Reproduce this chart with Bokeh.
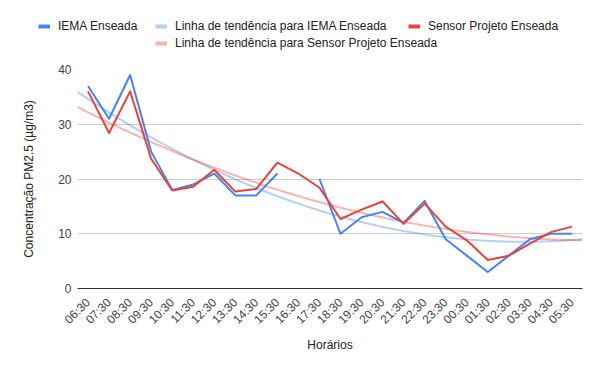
import numpy as np
from bokeh.plotting import figure
from bokeh.layouts import column, row
from bokeh.models import (ColumnDataSource, FixedTicker, Legend, LegendItem, Range1d)
from bokeh.embed import file_html
from bokeh.resources import INLINE

hours = ["06:30", "07:30", "08:30", "09:30", "10:30", "11:30", "12:30", "13:30",
         "14:30", "15:30", "16:30", "17:30", "18:30", "19:30", "20:30", "21:30",
         "22:30", "23:30", "00:30", "01:30", "02:30", "03:30", "04:30", "05:30"]
iema = [37, 31, 39, 25, 18, 19, 21, 17, 17, 21, np.nan, 20, 10, 13, 14, 12,
        16, 9, 6, 3, 6, 9, 10, 10]
sensor = [36, 28.4, 36, 23.7, 17.9, 18.6, 21.7, 17.7, 18.2, 23, 21, 18.4, 12.7,
          14.4, 15.9, 11.8, 15.5, 11.3, 8.8, 5.2, 6.0, 8.2, 10.3, 11.3]
labels = ["IEMA Enseada", "Linha de tendência para IEMA Enseada",
          "Sensor Projeto Enseada", "Linha de tendência para Sensor Projeto Enseada"]

FONT = "Liberation Sans"
BLUE = "#4285F4"
RED = "#EA4335"
LBLUE = "#B3CEFB"
LRED = "#F2B4AE"

x = np.arange(len(hours))
iema_arr = np.array(iema, dtype=float)
sensor_arr = np.array(sensor, dtype=float)

# polynomial (degree 2) trend lines, as the source chart draws them
xs = np.linspace(-0.5, len(hours) - 0.5, 200)
ok = ~np.isnan(iema_arr)
t_iema = np.polyval(np.polyfit(x[ok], iema_arr[ok], 2), xs)
t_sensor = np.polyval(np.polyfit(x, sensor_arr, 2), xs)

src = ColumnDataSource(dict(x=x, iema=iema_arr, sensor=sensor_arr))
tsrc = ColumnDataSource(dict(x=xs, ti=t_iema, ts=t_sensor))

# ---------- legend strip (its own figure, series kept out of view) ----------
LH = 61
lf = figure(width=584, height=LH, output_backend="svg", toolbar_location=None,
            x_axis_type=None, y_axis_type=None,
            x_range=Range1d(0, 1), y_range=Range1d(-2, -1),
            min_border=0, min_border_left=0, min_border_right=0,
            min_border_top=0, min_border_bottom=0)
lf.outline_line_color = None
lf.xgrid.grid_line_color = None
lf.ygrid.grid_line_color = None

sw = dict(line_width=4, line_cap="butt")
rs = [lf.line("x", "iema", source=src, line_color=BLUE, **sw),
      lf.line("x", "ti", source=tsrc, line_color=LBLUE, **sw),
      lf.line("x", "sensor", source=src, line_color=RED, **sw),
      lf.line("x", "ts", source=tsrc, line_color=LRED, **sw)]
locs = [(38, 27), (155, 27), (408, 27), (155, 10)]
for r, lab, loc in zip(rs, labels, locs):
    lg = Legend(items=[LegendItem(label=lab, renderers=[r])], location=loc,
                glyph_width=12, glyph_height=16, label_height=16,
                label_standoff=8, padding=0, margin=0, spacing=0,
                border_line_color=None, background_fill_alpha=0,
                label_text_font=FONT, label_text_font_size="12px",
                label_text_color="#222222")
    lf.add_layout(lg, "center")

# ---------- main chart ----------
p = figure(width=584, height=355 - LH, output_backend="svg", toolbar_location=None,
           x_range=Range1d(-0.5, len(hours) - 0.5), y_range=Range1d(0, 40),
           min_border_left=77, min_border_right=2, min_border_top=69 - LH,
           min_border_bottom=67)
p.outline_line_color = None

p.line("x", "ti", source=tsrc, line_color=BLUE, line_alpha=0.4, line_width=2)
p.line("x", "ts", source=tsrc, line_color=RED, line_alpha=0.4, line_width=2)
p.line("x", "iema", source=src, line_color=BLUE, line_width=2, line_join="round")
p.line("x", "sensor", source=src, line_color=RED, line_width=2, line_join="round")

p.xaxis.ticker = FixedTicker(ticks=list(x))
p.xaxis.major_label_overrides = {int(i): h for i, h in zip(x, hours)}
p.xaxis.major_label_orientation = np.pi / 4
p.xaxis.axis_line_color = "#333333"
p.xaxis.major_tick_line_color = None
p.xaxis.minor_tick_line_color = None
p.xaxis.major_label_standoff = 6
p.xaxis.major_label_text_font = FONT
p.xaxis.major_label_text_font_size = "12px"
p.xaxis.major_label_text_color = "#444444"
p.xaxis.axis_label = "Horários"
p.xaxis.axis_label_text_font = FONT
p.xaxis.axis_label_text_font_size = "12px"
p.xaxis.axis_label_text_font_style = "normal"
p.xaxis.axis_label_text_color = "#222222"
p.xaxis.axis_label_standoff = 3

p.yaxis.ticker = FixedTicker(ticks=[0, 10, 20, 30, 40])
p.yaxis.axis_line_color = None
p.yaxis.major_tick_line_color = None
p.yaxis.minor_tick_line_color = None
p.yaxis.major_tick_out = 0
p.yaxis.major_label_standoff = 6
p.yaxis.major_label_text_font = FONT
p.yaxis.major_label_text_font_size = "12px"
p.yaxis.major_label_text_color = "#444444"
p.yaxis.axis_label = "Concentração PM2.5 (µg/m3)"
p.yaxis.axis_label_text_font = FONT
p.yaxis.axis_label_text_font_size = "12px"
p.yaxis.axis_label_text_font_style = "normal"
p.yaxis.axis_label_text_color = "#222222"
p.yaxis.axis_label_standoff = 19

p.xgrid.grid_line_color = None
p.ygrid.grid_line_color = "#cccccc"

layout = column(row(lf), row(p), spacing=0)
open("out.html", "w").write(file_html(layout, INLINE))
